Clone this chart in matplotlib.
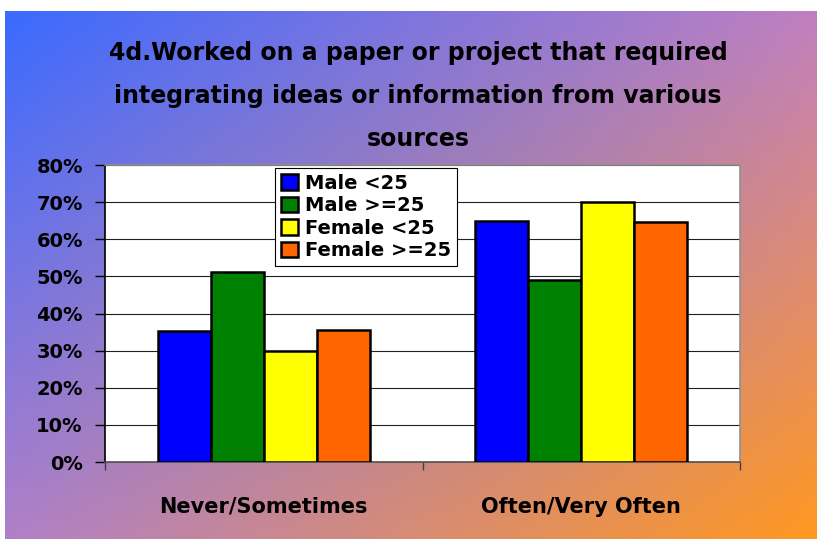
import numpy as np
import matplotlib
matplotlib.use("Agg")
import matplotlib.pyplot as plt
from matplotlib.colors import to_rgb

categories = ["Never/Sometimes", "Often/Very Often"]
series_names = ["Male <25", "Male >=25", "Female <25", "Female >=25"]
male_lt25 = [35.3, 65.0]
male_ge25 = [51.2, 49.0]
female_lt25 = [30.0, 69.9]
female_ge25 = [35.5, 64.7]
series_values = [male_lt25, male_ge25, female_lt25, female_ge25]
colors = ["#0000ff", "#008000", "#ffff00", "#ff6600"]
yticks = [0, 10, 20, 30, 40, 50, 60, 70, 80]
ytick_labels = ["0%", "10%", "20%", "30%", "40%", "50%", "60%", "70%", "80%"]
title = "4d.Worked on a paper or project that required\nintegrating ideas or information from various\nsources"

W, H = 817, 539
fig = plt.figure(figsize=(W / 100, H / 100), dpi=100)
fig.patch.set_facecolor("white")

# gradient background
bg = fig.add_axes([5 / W, 0, 1 - 5 / W, 1 - 11 / H])
bg.set_axis_off()
tl = np.array(to_rgb("#3a6aff"))
tr = np.array(to_rgb("#c080c0"))
bl = np.array(to_rgb("#b080c8"))
br = np.array(to_rgb("#ff9820"))
ny, nx = 200, 300
u = np.linspace(0, 1, nx)[None, :, None]
v = np.linspace(0, 1, ny)[:, None, None]
img = (1 - v) * ((1 - u) * tl + u * tr) + v * ((1 - u) * bl + u * br)
bg.imshow(img, aspect="auto", extent=[0, 1, 0, 1], interpolation="bilinear")
bg.set_xlim(0, 1)
bg.set_ylim(0, 1)

font = "DejaVu Sans"
ax = fig.add_axes([105 / W, (H - 462) / H, (740 - 105) / W, (462 - 165) / H])
ax.set_facecolor("white")
x = np.arange(len(categories))
w = 0.167
for i, (name, vals, c) in enumerate(zip(series_names, series_values, colors)):
    ax.bar(x + (i - 1.5) * w, vals, width=w, color=c, edgecolor="black",
           linewidth=1.8, label=name, zorder=3)

ax.set_xlim(-0.5, 1.5)
ax.set_ylim(0, 80)
ax.set_yticks(yticks)
ax.set_yticklabels(ytick_labels, fontsize=14, fontweight="bold", family=font)
ax.tick_params(axis="y", direction="out", length=7, width=1, pad=9, colors="black")
ax.yaxis.grid(True, color="#202020", linewidth=0.8, zorder=0)
ax.set_axisbelow(True)

ax.set_xticks(x)
ax.set_xticklabels(categories, fontsize=15, fontweight="bold", family=font)
ax.tick_params(axis="x", which="major", length=0, pad=25)
ax.set_xticks([-0.5, 0.5, 1.5], minor=True)
ax.tick_params(axis="x", which="minor", direction="out", length=6, width=1, color="#404040")

ax.spines["left"].set_color("black")
ax.spines["bottom"].set_color("#505050")
ax.spines["top"].set_color("#909090")
ax.spines["right"].set_color("#909090")
for s in ax.spines.values():
    s.set_linewidth(1.2)

leg = ax.legend(loc="upper left", bbox_to_anchor=(0.268, 0.99), borderaxespad=0,
                prop={"family": font, "weight": "bold", "size": 14},
                frameon=True, fancybox=False, edgecolor="black", framealpha=1,
                handlelength=0.85, handleheight=0.85, handletextpad=0.4,
                labelspacing=0.18, borderpad=0.3)
leg.get_frame().set_linewidth(0.8)
leg.set_zorder(5)

fig.text(418 / W, 1 - 96 / H, title, ha="center", va="center", fontsize=17,
         fontweight="bold", family=font, linespacing=2.0)

fig.savefig("out.png", dpi=100)
